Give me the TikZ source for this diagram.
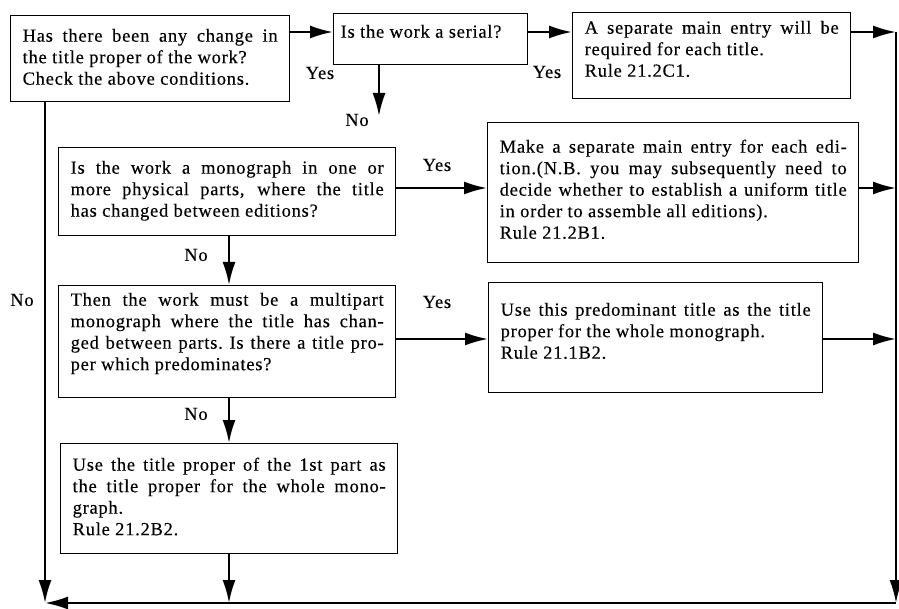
\documentclass[tikz,border=0pt]{standalone}
\usepackage{fontspec}
\setmainfont{Liberation Serif}[LetterSpace=4, FakeBold=0.25]
\usetikzlibrary{arrows.meta}
\tolerance=10000
\hbadness=10000
\begin{document}
\begin{tikzpicture}[x=1pt, y=-1pt,
box/.style = {draw, line width=1.4pt, anchor=north west, align=justify,
  inner xsep=12pt, inner ysep=0pt, font=\fontsize{18.5}{21.5}\selectfont},
lbl/.style = {font=\fontsize{18.5}{21.5}\selectfont, inner sep=0pt},
arr/.style = {-{Latex[length=23pt,width=13pt]}, line width=2.2pt}]

\useasboundingbox (0,0) rectangle (899,609);

\node[box, text width=255pt, text height=26pt, text depth=60pt] (b1) at (10,15)
  {Has there been any change in\linebreak the title proper of the work?\\ Check the above conditions.};
\node[box, inner xsep=7pt, text width=180pt, text height=24pt, text depth=27pt] (b2) at (333,13)
  {Is the work a serial?};
\node[box, text width=254pt, text height=21pt, text depth=65pt] (b3) at (572,12)
  {A separate main entry will be\linebreak required for each title.\\ Rule 21.2C1.};
\node[box, text width=313pt, text height=26pt, text depth=62pt] (b4) at (58,147)
  {Is the work a monograph in one or\linebreak more physical parts, where the title\linebreak has changed between editions?};
\node[box, text width=347pt, text height=30pt, text depth=110pt] (b5) at (487,122)
  {Make a separate main entry for each edi-\linebreak tion.(N.B. you may subsequently need to\linebreak decide whether to establish a uniform title\linebreak in order to assemble all editions).\\ Rule 21.2B1.};
\node[box, text width=313pt, text height=20pt, text depth=92pt] (b7) at (58,285)
  {Then the work must be a multipart\linebreak monograph where the title has chan-\linebreak ged between parts.\ Is there a title pro-\linebreak per which predominates?};
\node[box, text width=310pt, text height=33pt, text depth=77pt] (b6) at (488,282)
  {Use this predominant title as the title\linebreak proper for the whole monograph.\\ Rule 21.1B2.};
\node[box, text width=313pt, text height=27pt, text depth=83pt] (b8) at (60,443)
  {Use the title proper of the 1st part as\linebreak the title proper for the whole mono-\linebreak graph.\\ Rule 21.2B2.};

\node[lbl] (yes1) at (320,73) {Yes};
\node[lbl] (no1) at (357,120) {No};
\node[lbl] (yes2) at (547,72) {Yes};
\node[lbl] (yes3) at (437,165) {Yes};
\node[lbl] (no2) at (196,255) {No};
\node[lbl] (no3) at (22,300) {No};
\node[lbl] (yes4) at (437,302) {Yes};
\node[lbl] (no4) at (196,414) {No};

\coordinate (rt) at (896,32);
\coordinate (r2) at (896,188);
\coordinate (r3) at (896,339);
\coordinate (rb) at (896,603);
\coordinate (lb) at (45,603);
\coordinate (mid) at (229,603);
\coordinate (n1) at (379,116);

% Connect boxes
\draw[arr] (b1.east |- rt) -- (b2.west |- rt);
\draw[arr] (b2.east |- rt) -- (b3.west |- rt);
\draw[arr] (b3.east |- rt) -- (rt);
\draw[arr] (b2.south -| n1) -- (n1);
\draw[arr] (b4.east |- r2) -- (b5.west |- r2);
\draw[arr] (b5.east |- r2) -- (r2);
\draw[arr] (b4.south -| mid) -- (b7.north -| mid);
\draw[arr] (b7.east |- r3) -- (b6.west |- r3);
\draw[arr] (b6.east |- r3) -- (r3);
\draw[arr] (b7.south -| mid) -- (b8.north -| mid);
\draw[arr] (b8.south -| mid) -- (mid);
\draw[arr] (b1.south -| lb) -- (lb);
\draw[arr] (rt) -- (rb);
\draw[arr] (rb) -- (lb);

\end{tikzpicture}
\end{document}
